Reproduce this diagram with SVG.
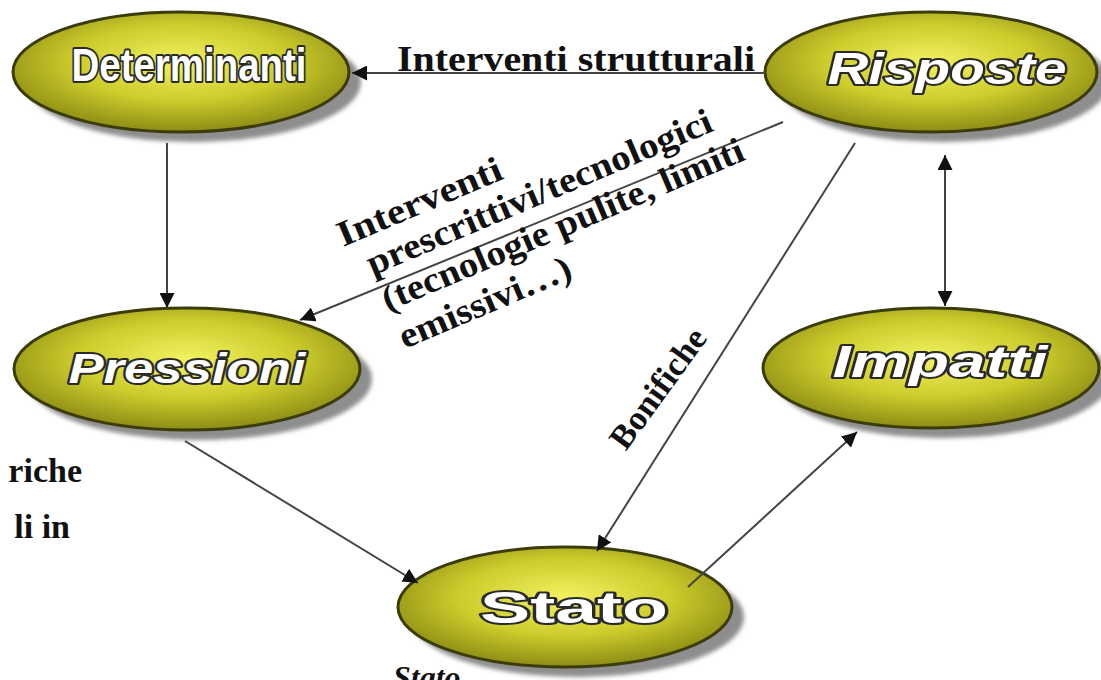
<svg xmlns="http://www.w3.org/2000/svg" width="1101" height="680" viewBox="0 0 1101 680">
<style>
.node{fill:url(#g);stroke:#3c3c0a;stroke-width:3}
.shadow{fill:#8e8e8e;filter:url(#blur)}
.nl{font-family:"Liberation Sans",Arial,sans-serif;font-weight:bold;font-style:italic;fill:#ffffff;stroke:#2a2a2a;stroke-width:4;paint-order:stroke;stroke-linejoin:round}
.up{font-style:normal}
.lbl{font-family:"Liberation Serif","Times New Roman",serif;font-weight:bold;fill:#111}
.conn{stroke:#444;stroke-width:2;fill:none}
</style>
<defs>
<radialGradient id="g" cx="50%" cy="42%" r="58%">
<stop offset="0" stop-color="#f2f262"/>
<stop offset="0.55" stop-color="#cccc2c"/>
<stop offset="1" stop-color="#8c8c14"/>
</radialGradient>
<filter id="blur" x="-10%" y="-20%" width="120%" height="140%"><feGaussianBlur stdDeviation="2"/></filter>
<marker id="arr" viewBox="0 0 10 10" refX="10" refY="5" markerWidth="15" markerHeight="15" markerUnits="userSpaceOnUse" orient="auto-start-reverse"><path d="M0,0 L10,5 L0,10 z" fill="#111"/></marker>
</defs>
<rect width="1101" height="680" fill="#ffffff"/>

<g id="determinanti">
<ellipse class="shadow" cx="193" cy="82" rx="168" ry="60"/>
<ellipse class="node" cx="181" cy="72" rx="168" ry="60"/>
<text class="nl up" x="189" y="81" text-anchor="middle" font-size="46" textLength="235" lengthAdjust="spacingAndGlyphs">Determinanti</text>
</g>
<g id="risposte">
<ellipse class="shadow" cx="943" cy="82" rx="166" ry="60"/>
<ellipse class="node" cx="931" cy="72" rx="166" ry="60"/>
<text class="nl" x="947" y="84" text-anchor="middle" font-size="44" textLength="239" lengthAdjust="spacingAndGlyphs">Risposte</text>
</g>
<g id="pressioni">
<ellipse class="shadow" cx="199" cy="379" rx="173" ry="61"/>
<ellipse class="node" cx="187" cy="369" rx="173" ry="61"/>
<text class="nl" x="187" y="383" text-anchor="middle" font-size="42" textLength="237" lengthAdjust="spacingAndGlyphs">Pressioni</text>
</g>
<g id="impatti">
<ellipse class="shadow" cx="943" cy="378" rx="168" ry="60"/>
<ellipse class="node" cx="931" cy="368" rx="168" ry="60"/>
<text class="nl" x="940" y="377" text-anchor="middle" font-size="44" textLength="215" lengthAdjust="spacingAndGlyphs">Impatti</text>
</g>
<g id="stato">
<ellipse class="shadow" cx="577" cy="617" rx="167" ry="60"/>
<ellipse class="node" cx="565" cy="607" rx="167" ry="60"/>
<text class="nl up" x="574" y="623" text-anchor="middle" font-size="44" textLength="188" lengthAdjust="spacingAndGlyphs">Stato</text>
</g>

<g id="connectors">
<path class="conn" d="M765,73 L352,73" marker-end="url(#arr)"/>
<path class="conn" d="M167,143 L167,308" marker-end="url(#arr)"/>
<path class="conn" d="M783,122 L300,320" marker-end="url(#arr)"/>
<path class="conn" d="M855,143 L597,551" marker-end="url(#arr)"/>
<path class="conn" d="M945,155 L945,306" marker-start="url(#arr)" marker-end="url(#arr)"/>
<path class="conn" d="M185,441 L418,583" marker-end="url(#arr)"/>
<path class="conn" d="M688,587 L857,432" marker-end="url(#arr)"/>
</g>

<g id="labels">
<text class="lbl" x="397" y="71" font-size="36" textLength="358" lengthAdjust="spacingAndGlyphs">Interventi strutturali</text>
<g transform="translate(343,247) rotate(-23)">
<text class="lbl" x="0" y="0" font-size="36" textLength="176" lengthAdjust="spacingAndGlyphs">Interventi</text>
<text class="lbl" x="16" y="38" font-size="36" textLength="372" lengthAdjust="spacingAndGlyphs">prescrittivi/tecnologici</text>
<text class="lbl" x="16" y="77" font-size="36" textLength="390" lengthAdjust="spacingAndGlyphs">(tecnologie pulite, limiti</text>
<text class="lbl" x="17" y="118" font-size="36" textLength="184" lengthAdjust="spacingAndGlyphs">emissivi…)</text>
</g>
<text class="lbl" transform="translate(667,395) rotate(-54)" x="0" y="0" text-anchor="middle" font-size="34" textLength="140" lengthAdjust="spacingAndGlyphs">Bonifiche</text>
<text class="lbl" x="82" y="482" text-anchor="end" font-size="34">riche</text>
<text class="lbl" x="70" y="538" text-anchor="end" font-size="34">li in</text>
<text class="lbl" x="393" y="688" font-size="32" font-style="italic">Stato</text>
</g>
</svg>
